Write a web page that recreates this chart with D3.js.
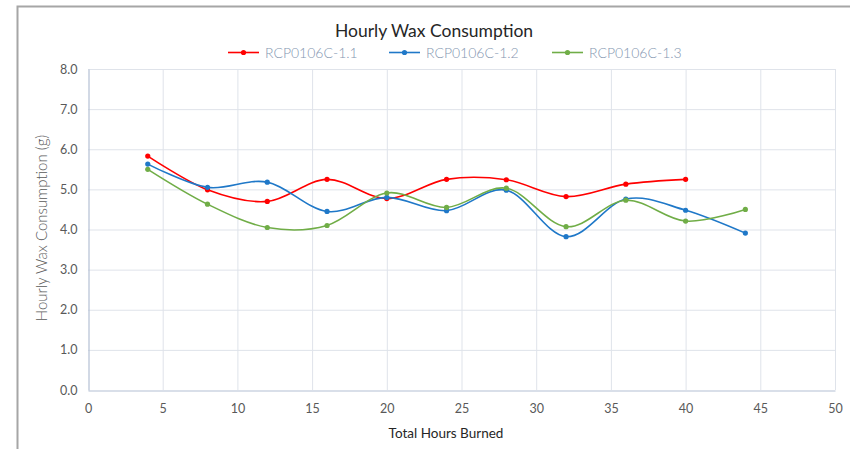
<!DOCTYPE html>
<html><head><meta charset="utf-8">
<script src="https://cdn.jsdelivr.net/npm/d3@7"></script>
<style>body{margin:0;background:#fff}svg{display:block}</style>
</head><body><svg id="c" width="850" height="449"></svg>
<script>
const title = "Hourly Wax Consumption";
const xLabel = "Total Hours Burned";
const yLabel = "Hourly Wax Consumption (g)";
const seriesNames = ["RCP0106C-1.1", "RCP0106C-1.2", "RCP0106C-1.3"];
const seriesColors = ["#ff0000", "#1f78c8", "#70ad47"];
const hours1 = [4, 8, 12, 16, 20, 24, 28, 32, 36, 40];
const values1 = [5.83, 4.99, 4.70, 5.25, 4.77, 5.25, 5.24, 4.82, 5.13, 5.25];
const hours2 = [4, 8, 12, 16, 20, 24, 28, 32, 36, 40, 44];
const values2 = [5.63, 5.05, 5.18, 4.45, 4.80, 4.47, 4.98, 3.82, 4.76, 4.48, 3.91];
const hours3 = [4, 8, 12, 16, 20, 24, 28, 32, 36, 40, 44];
const values3 = [5.50, 4.63, 4.05, 4.10, 4.91, 4.55, 5.03, 4.07, 4.73, 4.21, 4.50];
const xTicks = [0, 5, 10, 15, 20, 25, 30, 35, 40, 45, 50];
const yTicks = [0, 1, 2, 3, 4, 5, 6, 7, 8];

const svg = d3.select("#c");
const font = "Lato, 'Open Sans', sans-serif";
// outer border
svg.append("path").attr("d", "M17.5,449 V6.5 H850").attr("fill","none").attr("stroke","#a6a6a6").attr("stroke-width",2);

const L = 88, R = 835, T = 69, B = 390;
const x = d3.scaleLinear().domain([0, 50]).range([L, R]);
const y = d3.scaleLinear().domain([0, 8]).range([B, T]);

const grid = svg.append("g");
grid.selectAll(".gy").data(yTicks.filter(d=>d>0)).join("line")
  .attr("x1", L).attr("x2", R).attr("y1", d=>y(d)+0.5).attr("y2", d=>y(d)+0.5)
  .attr("stroke", "#dfe3ea").attr("stroke-width", 1);
grid.selectAll(".gx").data(xTicks.filter(d=>d>0)).join("line")
  .attr("y1", T).attr("y2", B).attr("x1", d=>x(d)+0.5).attr("x2", d=>x(d)+0.5)
  .attr("stroke", "#dfe3ea").attr("stroke-width", 1);

// axes
const xAxis = svg.append("g").attr("transform", `translate(0,${B+0.5})`)
  .call(d3.axisBottom(x).tickValues(xTicks).tickSize(0).tickPadding(14).tickFormat(d3.format("d")));
const yAxis = svg.append("g").attr("transform", `translate(${L+0.5},0)`)
  .call(d3.axisLeft(y).tickValues(yTicks).tickSize(0).tickPadding(11).tickFormat(d3.format(".1f")));
[xAxis, yAxis].forEach(a => {
  a.select(".domain").attr("stroke", "#b4c0d4").attr("stroke-width", 1.2);
  a.selectAll("text").attr("fill", "#595959").style("font-family", font).style("font-size", "12.5px");
});

const curve = d3.curveCardinal.tension(0);
const data = [[hours1, values1], [hours2, values2], [hours3, values3]];
data.forEach(([hs, vs], i) => {
  const pts = hs.map((h, j) => [h, vs[j]]);
  svg.append("path").datum(pts)
    .attr("d", d3.line().x(d=>x(d[0])).y(d=>y(d[1])).curve(curve))
    .attr("fill", "none").attr("stroke", seriesColors[i]).attr("stroke-width", 1.6);
  svg.append("g").selectAll("circle").data(pts).join("circle")
    .attr("cx", d=>x(d[0])).attr("cy", d=>y(d[1])).attr("r", 2.6).attr("fill", seriesColors[i]);
});

// title
svg.append("text").attr("x", 434).attr("y", 37).attr("text-anchor", "middle")
  .style("font-family", font).style("font-size", "17.5px").attr("fill", "#262626").text(title);

// legend
const legX = [228, 389, 552];
seriesNames.forEach((n, i) => {
  const g = svg.append("g").attr("transform", `translate(${legX[i]},52)`);
  g.append("line").attr("x1", 0).attr("x2", 31).attr("y1", 0.5).attr("y2", 0.5)
    .attr("stroke", seriesColors[i]).attr("stroke-width", 1.6);
  g.append("circle").attr("cx", 15.5).attr("cy", 0.5).attr("r", 2.6).attr("fill", seriesColors[i]);
  g.append("text").attr("x", 37).attr("y", 5.5).style("font-family", font).style("font-size", "14px")
    .style("font-weight", 300).attr("fill", "#8496b0").text(n);
});

// axis titles
svg.append("text").attr("x", 446).attr("y", 438).attr("text-anchor", "middle")
  .style("font-family", font).style("font-size", "13.5px").attr("fill", "#262626").text(xLabel);
svg.append("text").attr("transform", `translate(47,228) rotate(-90)`).attr("text-anchor", "middle")
  .style("font-family", font).style("font-size", "15px").style("font-weight", 300)
  .attr("fill", "#595959").text(yLabel);
</script></body></html>
